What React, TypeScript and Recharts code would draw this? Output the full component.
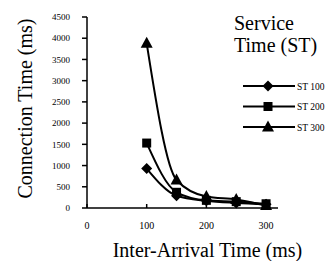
import { Label, Line, LineChart, XAxis, YAxis } from "recharts";

const interArrival = [100, 150, 200, 250, 300];
const st100 = [930, 290, 170, 120, 90];
const st200 = [1530, 370, 180, 150, 100];
const st300 = [3880, 660, 270, 200, 60];
const seriesNames = ["ST 100", "ST 200", "ST 300"];
const xTicks = [0, 100, 200, 300];
const yTicks = [0, 500, 1000, 1500, 2000, 2500, 3000, 3500, 4000, 4500];

const chartData = interArrival.map((x, i) => ({
  x,
  st100: st100[i],
  st200: st200[i],
  st300: st300[i],
}));

const FONT = "Liberation Serif, Times New Roman, serif";

function marker(kind: string, cx: number, cy: number, key?: string | number) {
  if (kind === "diamond") {
    return (
      <path key={key} d={`M${cx},${cy - 5.5}L${cx + 5.5},${cy}L${cx},${cy + 5.5}L${cx - 5.5},${cy}Z`} fill="#000" />
    );
  }
  if (kind === "square") {
    return <rect key={key} x={cx - 4.5} y={cy - 4.5} width={9} height={9} fill="#000" />;
  }
  return (
    <path key={key} d={`M${cx},${cy - 6.5}L${cx + 6},${cy + 4.5}L${cx - 6},${cy + 4.5}Z`} fill="#000" />
  );
}

const kinds = ["diamond", "square", "triangle"];

function makeDot(kind: string) {
  return (props: any) => marker(kind, props.cx, props.cy, `${kind}-${props.index}`);
}

// legend drawn beside the plot, like the original figure
function LegendBox() {
  return (
    <div style={{ position: "absolute", left: 234, top: 0, fontFamily: FONT, color: "#000" }}>
      <svg width={100} height={140} style={{ display: "block", overflow: "visible" }}>
        <text x={0} y={30} fontSize={20} fontFamily={FONT} fill="#000">
          Service
        </text>
        <text x={0} y={52} fontSize={20} fontFamily={FONT} fill="#000">
          Time (ST)
        </text>
        {seriesNames.map((name, i) => {
          const y = 86 + i * 20.5;
          return (
            <g key={name}>
              <line x1={9} x2={61} y1={y} y2={y} stroke="#000" strokeWidth={2} />
              {marker(kinds[i], 34, y)}
              <text x={63} y={y + 3.5} fontSize={9.5} fontFamily={FONT} fill="#000">
                {name}
              </text>
            </g>
          );
        })}
      </svg>
    </div>
  );
}

export default function App() {
  return (
    <div style={{ position: "fixed", left: 0, top: 0, width: 327, height: 261, background: "#fff", overflow: "hidden" }}>
      <LineChart
        width={327}
        height={261}
        data={chartData}
        margin={{ top: 17, right: 49, left: 0, bottom: 0 }}
      >
        <XAxis
          dataKey="x"
          type="number"
          domain={[0, 320]}
          ticks={xTicks}
          tickSize={-4}
          tickMargin={18}
          height={53}
          stroke="#000"
          strokeWidth={1.5}
          tick={{ fontSize: 10, fontFamily: FONT, fill: "#000" }}
        >
          <Label
            value="Inter-Arrival Time (ms)"
            position="insideBottom"
            offset={4}
            dx={25}
            style={{ fontSize: 20, fontFamily: FONT, fill: "#000" }}
          />
        </XAxis>
        <YAxis
          type="number"
          domain={[0, 4500]}
          ticks={yTicks}
          width={87}
          tickSize={5}
          tickMargin={12}
          stroke="#000"
          strokeWidth={1.5}
          tick={{ fontSize: 9, fontFamily: FONT, fill: "#000" }}
        >
          <Label
            value="Connection Time (ms)"
            angle={-90}
            position="insideLeft"
            offset={25}
            dy={-4}
            style={{ fontSize: 20, fontFamily: FONT, fill: "#000", textAnchor: "middle" }}
          />
        </YAxis>
        <Line
          dataKey="st100"
          name="ST 100"
          type="monotone"
          stroke="#000"
          strokeWidth={2}
          dot={makeDot("diamond")}
          isAnimationActive={false}
        />
        <Line
          dataKey="st200"
          name="ST 200"
          type="monotone"
          stroke="#000"
          strokeWidth={2}
          dot={makeDot("square")}
          isAnimationActive={false}
        />
        <Line
          dataKey="st300"
          name="ST 300"
          type="monotone"
          stroke="#000"
          strokeWidth={2}
          dot={makeDot("triangle")}
          isAnimationActive={false}
        />
      </LineChart>
      <LegendBox />
    </div>
  );
}
